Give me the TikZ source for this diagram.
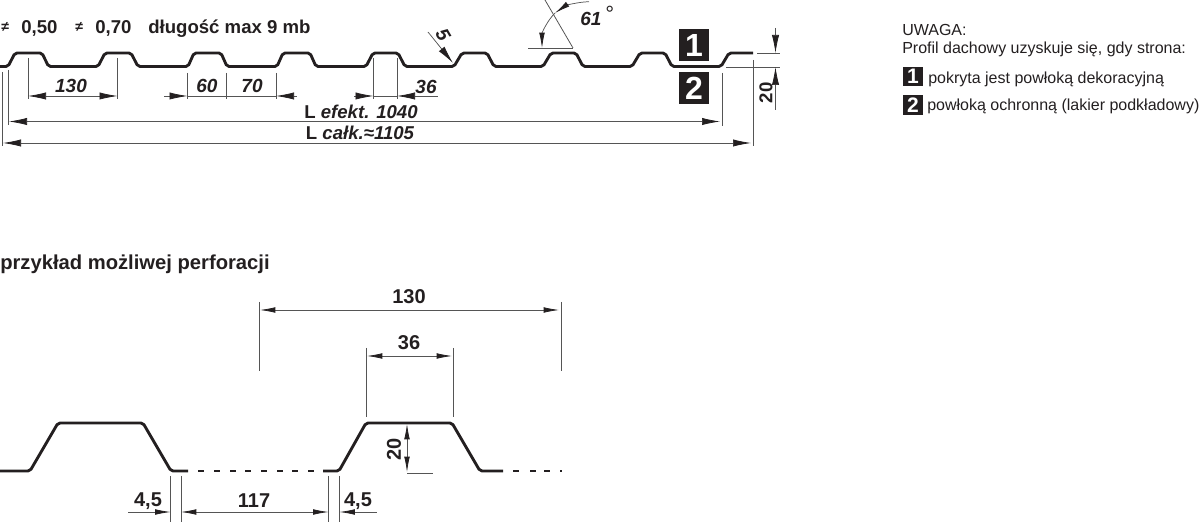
\documentclass[tikz,border=0pt]{standalone}
\usepackage{fontspec}
\setmainfont{Liberation Sans}
\usetikzlibrary{arrows.meta}
\definecolor{ink}{HTML}{231F20}
\definecolor{dimc}{HTML}{555555}
\newcommand{\fsz}[1]{\fontsize{\the\dimexpr #1pt*3/4\relax}{\the\dimexpr #1pt*9/10\relax}\selectfont}
\tikzset{
  x=0.75pt,y=-0.75pt,
  profile/.style={draw=ink,line width=2.15pt,rounded corners=1.5pt,line cap=butt},
  dash seg/.style={draw=ink,line width=2.15pt},
  dimline/.style={draw=dimc,line width=0.55pt},
  extline/.style={draw=dimc,line width=0.6pt},
  tipr/.style={-{Latex[length=13.5pt,width=5.4pt,color=ink]}},
  tipl/.style={{Latex[length=13.5pt,width=5.4pt,color=ink]}-},
  tipb/.style={{Latex[length=13.5pt,width=5.4pt,color=ink]}-{Latex[length=13.5pt,width=5.4pt,color=ink]}},
  stipr/.style={-{Latex[length=11.5pt,width=4.2pt,color=ink]}},
  stipl/.style={{Latex[length=11.5pt,width=4.2pt,color=ink]}-},
  stipb/.style={{Latex[length=11.5pt,width=4.2pt,color=ink]}-{Latex[length=11.5pt,width=4.2pt,color=ink]}},
  lbl/.style={inner sep=0pt,text=ink,font=\fsz{18.6}\bfseries},
  ilbl/.style={inner sep=0pt,text=ink,font=\fsz{19}\bfseries\itshape},
  big/.style={inner sep=0pt,text=ink,font=\fsz{20}\bfseries},
  note/.style={inner sep=0pt,text=ink,font=\fsz{16},anchor=base west},
  blackbox/.style={fill=ink,draw=none,inner sep=0pt,text=white,font=\bfseries},
}
\begin{document}
\begin{tikzpicture}
\useasboundingbox (0,0) rectangle (1200,523);
% top profile
\draw[profile] (0,66.5) -- (8,66.5) -- (15,53) -- (42,53) -- (48.5,66.5) -- (98,66.5) -- (105,53) -- (131,53) -- (138,66.5)
 -- (188,66.5) -- (194,53) -- (221,53) -- (227,66.5) -- (277,66.5) -- (283,53) -- (310,53) -- (316,66.5)
 -- (366,66.5) -- (373,53) -- (398,53) -- (405,66.5) -- (454,66.5) -- (462,53) -- (487,53) -- (494,66.5)
 -- (543,66.5) -- (551,53) -- (576,53) -- (583,66.5) -- (632,66.5) -- (640,53) -- (665,53) -- (672,66.5)
 -- (721,66.5) -- (729,53) -- (753,53);
% header
\node[note,font=\fsz{14}\bfseries] (ne1) at (1,32) {≠};
\node[lbl,anchor=base west] (t050) at (21,33.5) {0,50};
\node[note,font=\fsz{14}\bfseries] (ne2) at (75,32) {≠};
\node[lbl,anchor=base west] (t070) at (95,33.5) {0,70};
\node[lbl,anchor=base west] (tmax) at (148,33.5) {długość max 9 mb};
% 130
\draw[extline] (28,58) -- (28,99);
\draw[extline] (117.5,58) -- (117.5,99);
\draw[dimline,tipb] (28,96) -- (117.5,96);
\node[ilbl] (d130) at (71,86) {130};
% 60 70
\foreach \x in {187.5,226.5,276}{\draw[extline] (\x,73) -- (\x,99);}
\draw[dimline] (187.5,96) -- (276,96);
\draw[dimline,tipr] (164,96) -- (187.5,96);
\draw[dimline,tipl] (276,96) -- (297,96);
\node[ilbl] (d60) at (207,86) {60};
\node[ilbl] (d70) at (252,86) {70};
% 36
\draw[extline] (373.5,58) -- (373.5,99);
\draw[extline] (397,58) -- (397,99);
\draw[dimline] (373.5,96) -- (397,96);
\draw[dimline,tipr] (354,96) -- (373.5,96);
\draw[dimline,tipl] (397,96) -- (438,96);
\node[ilbl] (d36) at (426,87) {36};
% L efekt
\draw[extline] (8,70) -- (8,125);
\draw[extline] (722,73) -- (722,126);
\draw[dimline,tipb] (9,121.5) -- (720,121.5);
\node[lbl,anchor=base] (lef) at (361,119) {L {\itshape efekt. 1040}};
% L calk
\draw[extline] (2,72) -- (2,146);
\draw[extline] (753,60) -- (753,146);
\draw[dimline,tipb] (3,143) -- (751,143);
\node[lbl,anchor=base] (lca) at (360,140) {L {\itshape całk.≈1105}};
% 5
\draw[dimline,tipr] (428,32) -- (453,63);
\node[ilbl,rotate=-60] (d5) at (443,35) {5};
% 61
\draw[extline] (528,48) -- (573,48);
\draw[extline] (545,0) -- (573,48);
\draw[dimline,stipr] (589,1.7) .. controls (577,2) and (565,6) .. (555,13);
\draw[dimline,stipr] (555,13) .. controls (547,21) and (542,33) .. (542,48);
\node[ilbl,anchor=base west] (d61) at (580,26) {61};
\node[ilbl,font=\fsz{22}\itshape] (deg) at (609,14) {°};
% boxes
\node[blackbox,minimum width=22.5pt,minimum height=24pt,font=\fsz{32}\bfseries] (b1) at (694,45.5) {1};
\node[blackbox,minimum width=22.5pt,minimum height=24pt,font=\fsz{32}\bfseries] (b2) at (694,88) {2};
% 20 right
\draw[extline] (757,53) -- (780,53);
\draw[extline] (726,67) -- (780,67);
\draw[dimline,tipr] (775.5,28) -- (775.5,53);
\draw[dimline,tipl] (775.5,67) -- (775.5,110);
\node[lbl,rotate=90] (d20) at (766,93) {20};
% note
\node[note] (n1) at (902,36) {UWAGA:};
\node[note] (n2) at (902,54) {Profil dachowy uzyskuje się, gdy strona:};
\node[blackbox,minimum width=15pt,minimum height=14.5pt,font=\fsz{21}\bfseries] (s1) at (913,76.5) {1};
\node[note] (n3) at (928,84) {pokryta jest powłoką dekoracyjną};
\node[blackbox,minimum width=15pt,minimum height=14.5pt,font=\fsz{21}\bfseries] (s2) at (913,105) {2};
\node[note] (n4) at (927,110.5) {powłoką ochronną (lakier podkładowy)};
% bottom
\node[lbl,font=\fsz{20.2}\bfseries,anchor=base west] (title) at (0,270) {przykład możliwej perforacji};
\draw[profile] (0,471) -- (30,471) -- (58,423) -- (143,423) -- (171,471) -- (188,471);
\foreach \x in {198,214,230,245,261,277,292,308}{\draw[dash seg] (\x,471) -- ++(6,0);}
\draw[profile] (323,471) -- (339,471) -- (366,423) -- (452,423) -- (480,471) -- (503,471);
\foreach \x in {513,530,544}{\draw[dash seg] (\x,471) -- ++(6,0);}
\draw[dash seg] (560,471) -- ++(1.5,0);
% lower dims
\foreach \x in {170.5,181,328.5,339.5}{\draw[extline] (\x,476) -- (\x,522);}
\draw[dimline,stipr] (128,512) -- (170.5,512);
\draw[dimline,stipb] (181,512) -- (328.5,512);
\draw[dimline,stipl] (339.5,512) -- (377,512);
\node[big] (a45) at (148,501) {4,5};
\node[big] (a117) at (254,501) {117};
\node[big] (b45) at (358,501) {4,5};
\draw[extline] (259,302) -- (259,371);
\draw[extline] (561.5,302) -- (561.5,371);
\draw[dimline,stipb] (260,310) -- (559,310);
\node[big] (t130) at (409,297) {130};
\draw[extline] (366,348) -- (366,417);
\draw[extline] (453,348) -- (453,417);
\draw[dimline,stipb] (367,356) -- (452,356);
\node[big] (t36) at (409,343) {36};
\draw[dimline,stipb] (407,424) -- (407,472);
\draw[extline] (407,473) -- (433,473);
\node[big,rotate=90] (t20) at (394,449) {20};
\end{tikzpicture}
\end{document}
